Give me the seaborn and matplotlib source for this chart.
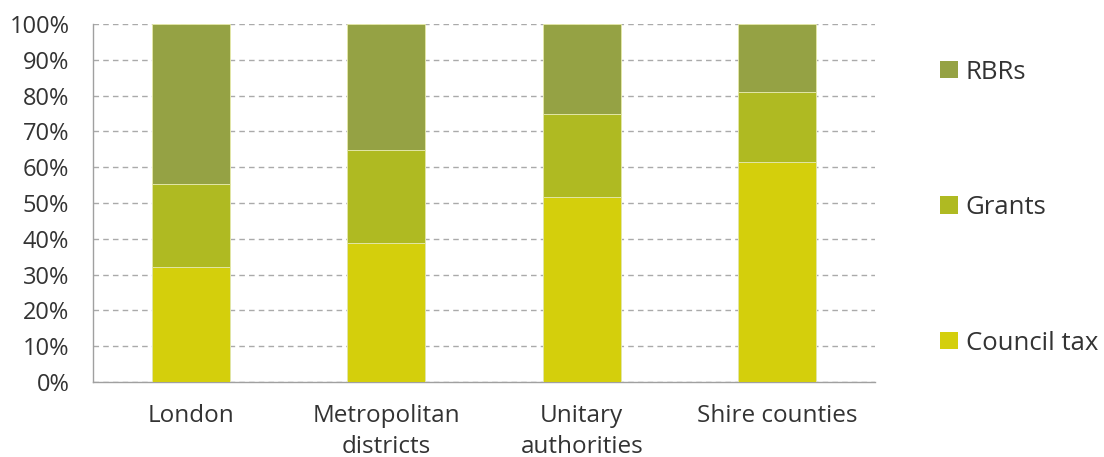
import matplotlib
matplotlib.use("Agg")
import matplotlib.pyplot as plt
import seaborn as sns
import pandas as pd
from matplotlib.patches import Patch
from matplotlib.ticker import FixedLocator

# Data (shares of income, %)
authorities = ["London", "Metropolitan\ndistricts", "Unitary\nauthorities", "Shire counties"]
council_tax = [32.1, 38.8, 51.7, 61.5]
grants = [23.2, 26.0, 23.2, 19.5]
rbrs = [44.7, 35.2, 25.1, 19.0]

colors = {"RBRs": "#95a244", "Grants": "#afba22", "Council tax": "#d4cf0c"}

sns.set_style("white")
plt.rcParams["font.family"] = ["Open Sans", "DejaVu Sans"]
text_color = "#333333"

df = pd.DataFrame({"authority": authorities, "Council tax": council_tax,
                   "Grants": grants, "RBRs": rbrs})
df["ct_top"] = df["Council tax"]
df["gr_top"] = df["Council tax"] + df["Grants"]
df["rb_top"] = df["gr_top"] + df["RBRs"]

fig = plt.figure(figsize=(11.04, 4.57), dpi=100)
ax = fig.add_axes([0.0842, 0.1641, 0.7084, 0.7834])

# stacked bars: draw cumulative totals back to front
for col, name in [("rb_top", "RBRs"), ("gr_top", "Grants"), ("ct_top", "Council tax")]:
    sns.barplot(data=df, x="authority", y=col, color=colors[name], width=0.4,
                saturation=1, edgecolor="#e2e6a8", linewidth=0.7, ax=ax, zorder=3)

ax.set_xlim(-0.5, 3.5)
ax.set_ylim(0, 100)
ax.set_yticks(range(0, 101, 10))
ax.set_yticklabels([f"{v}%" for v in range(0, 101, 10)])
ax.yaxis.grid(True, linestyle=(0, (4, 3)), color="#aaaaaa", linewidth=1)
ax.set_axisbelow(True)
ax.set_xlabel("")
ax.set_ylabel("")

for s in ["top", "right"]:
    ax.spines[s].set_visible(False)
for s in ["left", "bottom"]:
    ax.spines[s].set_color("#a0a0a0")
    ax.spines[s].set_linewidth(1)

ax.tick_params(axis="y", length=7, color="#a0a0a0", labelsize=17, labelcolor=text_color, pad=10)
ax.tick_params(axis="x", which="major", length=0, labelsize=17.5, labelcolor=text_color, pad=16)
ax.xaxis.set_minor_locator(FixedLocator([-0.5, 0.5, 1.5, 2.5, 3.5]))
ax.tick_params(axis="x", which="minor", length=7, color="#a0a0a0")
for lbl in ax.get_xticklabels():
    lbl.set_linespacing(1.35)

handles = [Patch(facecolor=colors[n], edgecolor="none") for n in ["RBRs", "Grants", "Council tax"]]
leg = fig.legend(handles, ["RBRs", "Grants", "Council tax"], loc="upper left",
                 bbox_to_anchor=(0.8425, 0.892), frameon=False, fontsize=18.5,
                 handlelength=0.68, handleheight=0.68, handletextpad=0.3,
                 labelspacing=4.3, borderaxespad=0)
for t in leg.get_texts():
    t.set_color(text_color)

fig.savefig("out.png", dpi=100)
